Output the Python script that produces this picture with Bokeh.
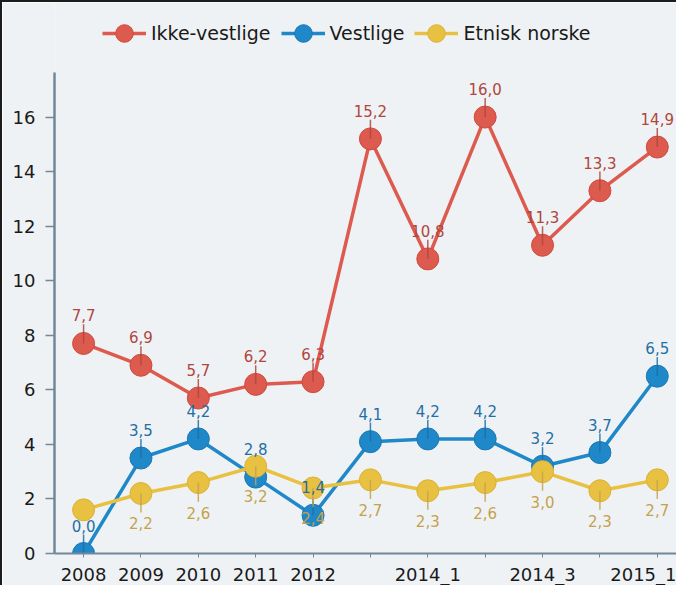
from bokeh.plotting import figure
from bokeh.models import ColumnDataSource, FixedTicker, Range1d, Legend, LegendItem
from bokeh.embed import file_html
from bokeh.resources import INLINE
from bokeh.core.properties import value

# ---- data ----
periods = ["2008", "2009", "2010", "2011", "2012", "2013",
           "2014_1", "2014_2", "2014_3", "2014_4", "2015_1"]
shown_labels = ["2008", "2009", "2010", "2011", "2012", "2014_1", "2014_3", "2015_1"]
ikke_vestlige = [7.7, 6.9, 5.7, 6.2, 6.3, 15.2, 10.8, 16.0, 11.3, 13.3, 14.9]
vestlige = [0.0, 3.5, 4.2, 2.8, 1.4, 4.1, 4.2, 4.2, 3.2, 3.7, 6.5]
etnisk_norske = [1.6, 2.2, 2.6, 3.2, 2.4, 2.7, 2.3, 2.6, 3.0, 2.3, 2.7]
etnisk_labelled = [False, True, True, True, True, True, True, True, True, True, True]
y_ticks = [0, 2, 4, 6, 8, 10, 12, 14, 16]
y_axis_top = 17.64

FONT = "DejaVu Sans"
BG = "#eff2f4"
AXIS = "#72879a"

def fmt(v):
    return f"{v:.1f}".replace(".", ",")

p = figure(width=676, height=585, output_backend="svg", toolbar_location=None,
           x_range=Range1d(-0.507, 10.37), y_range=Range1d(0, 20.2),
           min_border_left=52, min_border_right=0, min_border_top=0, min_border_bottom=31,
           background_fill_color=BG, border_fill_color=BG, outline_line_color=None)
p.styles = {"border-left": "2px solid #1c1c1c", "border-top": "2px solid #1c1c1c"}
p.grid.visible = False

xs = list(range(len(periods)))

series = [
    ("Ikke-vestlige", ikke_vestlige, [True] * len(periods), "#dc5a4e", "#d04a40", "#b0463e", "above"),
    ("Vestlige", vestlige, [True] * len(periods), "#1f88c8", "#1a78b4", "#1f6fa6", "above"),
    ("Etnisk norske", etnisk_norske, etnisk_labelled, "#e8c142", "#dcb236", "#c4a24c", "below"),
]

LEAD = 0.7
draw_order = [1, 2, 0]
renderers = {}
label_jobs = []
for k in draw_order:
    name, vals, lab, col, edge, tcol, pos = series[k]
    src = ColumnDataSource(dict(x=xs, y=vals))
    ln = p.line("x", "y", source=src, line_color=col, line_width=3.5)
    sc = p.scatter("x", "y", source=src, size=22, fill_color=col, line_color=edge, line_width=1)
    lx = [x for x, f in zip(xs, lab) if f]
    lv = [v for v, f in zip(vals, lab) if f]
    sign = 1 if pos == "above" else -1
    p.segment(x0=lx, y0=lv, x1=lx, y1=[v + sign * LEAD for v in lv],
              line_color=tcol, line_width=1.5, line_alpha=0.85)
    renderers[k] = [ln, sc]
    label_jobs.append((lx, lv, tcol, pos))

for lx, lv, tcol, pos in label_jobs:
    lsrc = ColumnDataSource(dict(x=lx, y=lv, t=[fmt(v) for v in lv]))
    if pos == "above":
        p.text("x", "y", text="t", source=lsrc, text_align="center", text_baseline="bottom",
               y_offset=-22, text_font=value(FONT), text_font_size="15px", text_color=tcol)
    else:
        p.text("x", "y", text="t", source=lsrc, text_align="center", text_baseline="top",
               y_offset=24, text_font=value(FONT), text_font_size="15px", text_color=tcol)

legend = Legend(items=[LegendItem(label=series[k][0], renderers=renderers[k]) for k in range(3)],
                location=(48, 498), orientation="horizontal",
                background_fill_alpha=0, border_line_color=None, padding=0, margin=0,
                spacing=10, label_standoff=5, glyph_width=44, glyph_height=44,
                label_text_font=FONT, label_text_font_size="19px", label_text_color="#1a1a1a")
p.add_layout(legend)

xa = p.xaxis[0]
xa.ticker = FixedTicker(ticks=xs)
xa.major_label_overrides = {i: (lbl if lbl in shown_labels else "") for i, lbl in enumerate(periods)}
xa.axis_line_color = AXIS
xa.axis_line_width = 2
xa.major_tick_line_color = AXIS
xa.major_tick_out = 4
xa.major_tick_in = 0
xa.minor_tick_line_color = None
xa.major_label_standoff = 6
xa.major_label_text_font = FONT
xa.major_label_text_font_size = "18px"
xa.major_label_text_color = "#1a1a1a"

ya = p.yaxis[0]
ya.ticker = FixedTicker(ticks=y_ticks)
ya.bounds = (0, y_axis_top)
ya.axis_line_color = AXIS
ya.axis_line_width = 2.5
ya.major_tick_line_color = AXIS
ya.major_tick_line_width = 1.5
ya.major_tick_out = 9
ya.major_tick_in = 0
ya.minor_tick_line_color = None
ya.major_label_standoff = 10
ya.major_label_text_font = FONT
ya.major_label_text_font_size = "18px"
ya.major_label_text_color = "#1a1a1a"

open("out.html", "w").write(file_html(p, INLINE))
